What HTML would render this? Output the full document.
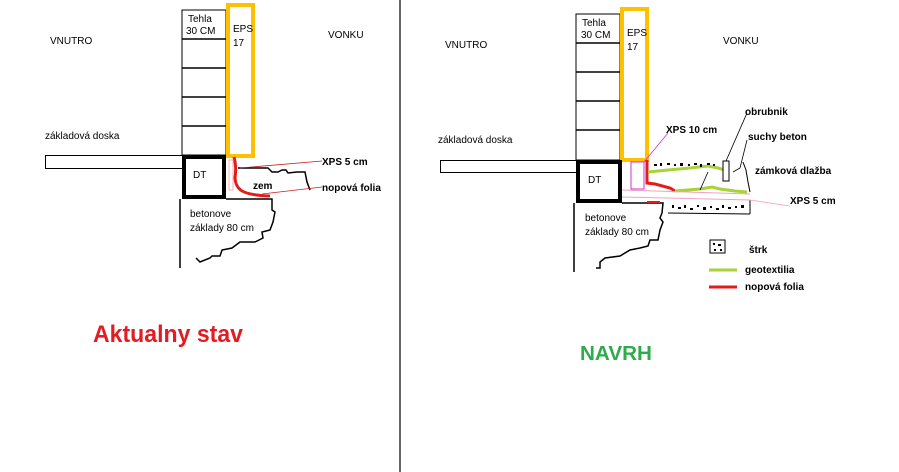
<!DOCTYPE html>
<html><head><meta charset="utf-8"><style>
html,body{margin:0;padding:0;background:#fff;}
svg{display:block;font-family:"Liberation Sans",sans-serif;}
</style></head><body>
<svg width="899" height="472" viewBox="0 0 899 472" xmlns="http://www.w3.org/2000/svg">
<rect width="899" height="472" fill="#fff"/>
<!-- divider -->
<line x1="400" y1="0" x2="400" y2="472" stroke="#000" stroke-width="1.2"/>

<!-- LEFT -->
<g font-size="10" fill="#000">
<text x="50" y="44">VNUTRO</text>
<text x="328" y="38">VONKU</text>
<text x="45" y="139">základová doska</text>
</g>
<!-- bricks -->
<rect x="182" y="10" width="44" height="145" fill="#fff" stroke="#000"/>
<g stroke="#000" stroke-width="1.5">
<line x1="182" y1="39" x2="226" y2="39"/><line x1="182" y1="68" x2="226" y2="68"/>
<line x1="182" y1="97" x2="226" y2="97"/><line x1="182" y1="126" x2="226" y2="126"/>
</g>
<text x="188" y="22" font-size="10">Tehla</text>
<text x="186" y="34" font-size="10">30 CM</text>
<rect x="228" y="5" width="25" height="151" fill="none" stroke="#ffc000" stroke-width="4"/>
<text x="233" y="32" font-size="10">EPS</text>
<text x="233" y="46" font-size="10">17</text>
<!-- slab -->
<rect x="45.5" y="155.5" width="137" height="13" fill="#fff" stroke="#000"/>
<rect x="184" y="157" width="40" height="40" fill="#fff" stroke="#000" stroke-width="4"/>
<text x="193" y="178" font-size="10">DT</text>
<!-- foundation -->
<path d="M180 199 L180 268 M226 199 L272 199 L272 210 L275 212 L273 222 L270 230 L262 232 L263 238 L255 242 L240 242 L232 248 L222 250 L220 256 L212 256 L210 258 L200 262 L196 258" fill="none" stroke="#000" stroke-width="1.5"/>
<text x="190" y="217" font-size="10">betonove</text>
<text x="190" y="231" font-size="10">základy 80 cm</text>
<!-- zem -->
<path d="M238 168 L268 168 L272 172 L278 172 L282 170 L286 170 L288 173 L297 172 L305 172 L307 182 L310 190" fill="none" stroke="#000" stroke-width="1.5"/>
<path d="M234 157 C236 165 236 170 235 178 C236 190 242 195 270 196" fill="none" stroke="#e31b1b" stroke-width="3"/>
<rect x="229" y="160" width="4" height="30" fill="none" stroke="#f3a0a0" stroke-width="0.8"/>
<line x1="240" y1="168" x2="322" y2="161" stroke="#c81e1e" stroke-width="0.8"/>
<line x1="262" y1="194" x2="322" y2="187" stroke="#c81e1e" stroke-width="0.8"/>
<text x="253" y="189" font-size="10" font-weight="bold">zem</text>
<text x="322" y="165" font-size="10" font-weight="bold">XPS 5 cm</text>
<text x="322" y="191" font-size="10" font-weight="bold">nopová folia</text>
<text x="93" y="342" font-size="24" font-weight="bold" fill="#e31b23" textLength="150" lengthAdjust="spacingAndGlyphs">Aktualny stav</text>

<!-- RIGHT -->
<g font-size="10" fill="#000">
<text x="445" y="48">VNUTRO</text>
<text x="723" y="44">VONKU</text>
<text x="438" y="143">základová doska</text>
</g>
<rect x="576" y="14" width="44" height="146" fill="#fff" stroke="#000"/>
<g stroke="#000" stroke-width="1.5">
<line x1="576" y1="43" x2="620" y2="43"/><line x1="576" y1="72" x2="620" y2="72"/>
<line x1="576" y1="101" x2="620" y2="101"/><line x1="576" y1="130" x2="620" y2="130"/>
</g>
<text x="582" y="26" font-size="10">Tehla</text>
<text x="581" y="38" font-size="10">30 CM</text>
<rect x="622" y="9" width="25" height="151" fill="none" stroke="#ffc000" stroke-width="4"/>
<text x="627" y="36" font-size="10">EPS</text>
<text x="627" y="50" font-size="10">17</text>
<rect x="440.5" y="160.5" width="136" height="12" fill="#fff" stroke="#000"/>
<rect x="578" y="162" width="42" height="39" fill="#fff" stroke="#000" stroke-width="4"/>
<text x="588" y="183" font-size="10">DT</text>
<path d="M574 203 L574 272 M622 203 L663 203 L662 213 L660 218 L663 222 L660 230 L658 240 L650 240 L648 246 L640 248 L630 250 L620 256 L605 258 L600 262 L600 268 L596 268" fill="none" stroke="#000" stroke-width="1.5"/>
<text x="585" y="221" font-size="10">betonove</text>
<text x="585" y="235" font-size="10">základy 80 cm</text>
<!-- XPS10 -->
<rect x="631" y="162" width="13" height="27" fill="none" stroke="#d030d0" stroke-width="1"/>
<line x1="644" y1="162" x2="668" y2="133" stroke="#d030d0" stroke-width="0.8"/>
<text x="666" y="133" font-size="10" font-weight="bold">XPS 10 cm</text>
<!-- red nopova -->
<path d="M647 160 L647 183 L655 184 L670 188 L675 191" fill="none" stroke="#e31b1b" stroke-width="3"/>
<line x1="647" y1="202" x2="660" y2="202" stroke="#e31b1b" stroke-width="2"/>
<!-- green -->
<path d="M648 172 L668 170 L690 168 L708 166 L718 168 L725 170" fill="none" stroke="#a8d13a" stroke-width="3"/>
<path d="M675 191 L700 189 L712 187 L720 189 L735 191 L747 192" fill="none" stroke="#a8d13a" stroke-width="3"/>
<!-- gravel dots top -->
<g fill="#000">
<rect x="654" y="164" width="3" height="2"/><rect x="660" y="163" width="2" height="3"/><rect x="667" y="163" width="3" height="2"/><rect x="674" y="164" width="2" height="2"/><rect x="680" y="163" width="3" height="3"/><rect x="688" y="164" width="2" height="2"/><rect x="694" y="163" width="3" height="2"/><rect x="700" y="164" width="2" height="3"/><rect x="707" y="163" width="3" height="2"/><rect x="713" y="164" width="2" height="2"/>
<rect x="672" y="205" width="2" height="3"/><rect x="678" y="207" width="3" height="2"/><rect x="684" y="205" width="2" height="3"/><rect x="690" y="208" width="3" height="2"/><rect x="697" y="205" width="2" height="2"/><rect x="703" y="207" width="3" height="3"/><rect x="710" y="206" width="2" height="2"/><rect x="716" y="208" width="3" height="2"/><rect x="722" y="205" width="2" height="3"/><rect x="728" y="207" width="3" height="2"/><rect x="735" y="206" width="2" height="2"/><rect x="741" y="205" width="3" height="3"/>
</g>
<path d="M668 213 L750 214 M750 200 L750 214" stroke="#000" fill="none" stroke-width="1"/>
<!-- pink XPS 5 -->
<path d="M622 190 L750 194 M622 197 L750 200" stroke="#f3a0c0" fill="none" stroke-width="1"/>
<line x1="750" y1="200" x2="790" y2="206" stroke="#f3a0c0" stroke-width="0.8"/>
<text x="790" y="204" font-size="10" font-weight="bold">XPS 5 cm</text>
<!-- obrubnik -->
<rect x="723" y="161" width="6" height="20" fill="#fff" stroke="#000"/>
<line x1="726" y1="161" x2="747" y2="113" stroke="#000" stroke-width="0.8"/>
<text x="745" y="115" font-size="10" font-weight="bold">obrubnik</text>
<path d="M733 172 L740 168 L742 160 L747 140" fill="none" stroke="#000" stroke-width="0.8"/>
<text x="748" y="140" font-size="10" font-weight="bold">suchy beton</text>
<path d="M743 162 L746 170 L748 182 L750 192" fill="none" stroke="#000" stroke-width="1"/>
<text x="755" y="174" font-size="10" font-weight="bold">zámková dlažba</text>
<line x1="700" y1="190" x2="708" y2="172" stroke="#000" stroke-width="0.8"/>
<!-- legend -->
<rect x="710" y="240" width="15" height="13" fill="#fff" stroke="#000"/>
<g fill="#000"><rect x="713" y="243" width="2" height="2"/><rect x="718" y="244" width="3" height="2"/><rect x="714" y="249" width="2" height="2"/><rect x="720" y="249" width="2" height="2"/></g>
<text x="749" y="253" font-size="10" font-weight="bold">štrk</text>
<line x1="709" y1="270" x2="737" y2="270" stroke="#a8d13a" stroke-width="3"/>
<text x="745" y="273" font-size="10" font-weight="bold">geotextilia</text>
<line x1="709" y1="287" x2="737" y2="287" stroke="#e31b1b" stroke-width="3"/>
<text x="745" y="290" font-size="10" font-weight="bold">nopová folia</text>
<text x="580" y="360" font-size="20" font-weight="bold" fill="#2eab4a" textLength="72" lengthAdjust="spacingAndGlyphs">NAVRH</text>
</svg>
</body></html>
